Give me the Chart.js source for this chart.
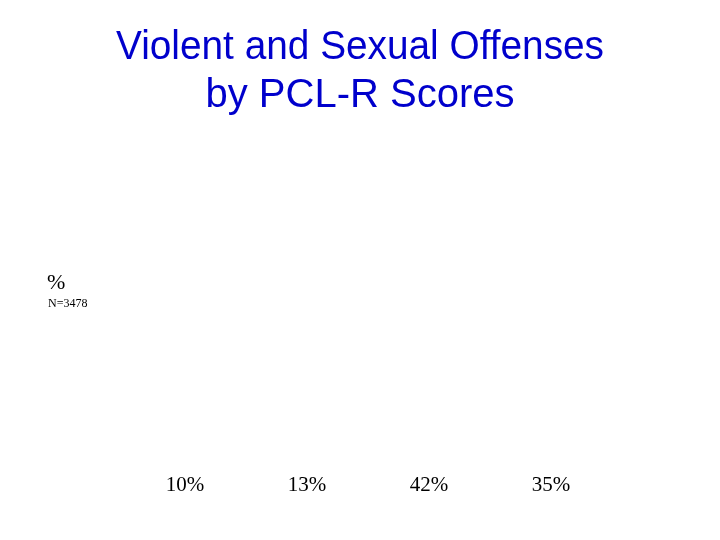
<!DOCTYPE html>
<html>
<head>
<meta charset="utf-8">
<script src="https://cdn.jsdelivr.net/npm/chart.js@4"></script>
<style>
  html, body { margin: 0; padding: 0; background: #fff; }
  #wrap { width: 720px; height: 540px; }
</style>
</head>
<body>
<div id="wrap"><canvas id="myChart"></canvas></div>
<script>
const titleLines = ["Violent and Sexual Offenses", "by PCL-R Scores"];
const categories = ["Group 1", "Group 2", "Group 3", "Group 4"];
const offenseRates = [10, 13, 42, 35];
const axisUnit = "%";
const sampleNote = "N=3478";

document.addEventListener("DOMContentLoaded", function () {
  const ctx = document.getElementById("myChart");

  // draws the "%" unit and sample size in the top-left corner
  const cornerNotes = {
    id: "cornerNotes",
    afterDraw(chart) {
      const c = chart.ctx;
      c.save();
      c.fillStyle = "#000";
      c.textBaseline = "alphabetic";
      c.textAlign = "left";
      c.font = "22px 'Liberation Serif'";
      c.fillText(axisUnit, 47, 289);
      c.font = "12px 'Liberation Serif'";
      c.fillText(sampleNote, 48, 307);
      c.restore();
    },
  };

  new Chart(ctx, {
    type: "bar",
    data: {
      labels: categories,
      datasets: [
        {
          data: offenseRates,
          backgroundColor: "rgba(0,0,0,0)",
          borderWidth: 0,
        },
      ],
    },
    options: {
      responsive: true,
      maintainAspectRatio: false,
      animation: false,
      layout: {
        padding: { left: 116, right: 116, bottom: 39, top: 0 },
      },
      plugins: {
        legend: { display: false },
        tooltip: { enabled: false },
        title: {
          display: true,
          text: titleLines,
          color: "#0000cc",
          font: { family: "'Liberation Sans', Arial", size: 40, weight: "normal", lineHeight: 1.2 },
          padding: { top: 24, bottom: 20 },
        },
      },
      scales: {
        x: {
          grid: { display: false },
          border: { display: false },
          ticks: {
            color: "#000",
            font: { family: "'Liberation Serif'", size: 21 },
            padding: 3,
            labelOffset: 8,
            callback: (val, i) => offenseRates[i] + "%",
          },
        },
        y: {
          display: false,
          beginAtZero: true,
          max: 50,
        },
      },
    },
    plugins: [cornerNotes],
  });
});
</script>
</body>
</html>
